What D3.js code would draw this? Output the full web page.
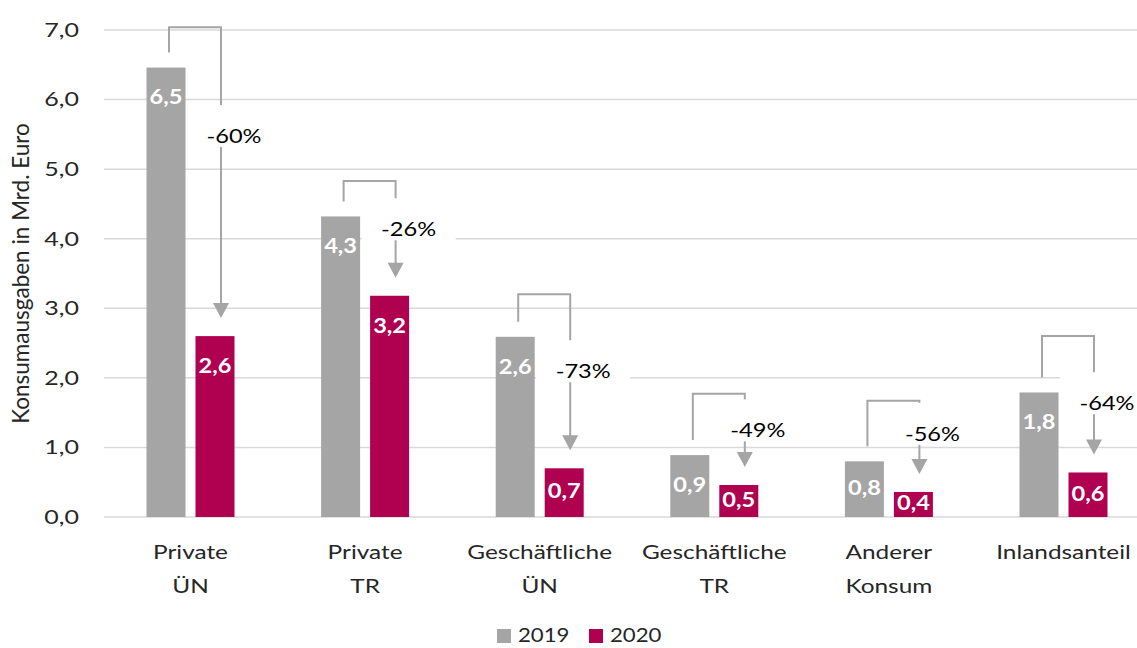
<!DOCTYPE html>
<html>
<head>
<meta charset="utf-8">
<script src="https://cdn.jsdelivr.net/npm/d3@7"></script>
<style>
  body { margin: 0; background: #fff; }
  svg { display: block; font-family: Lato, "Open Sans", sans-serif; }
</style>
</head>
<body>
<svg id="chart" width="1137" height="648"></svg>
<script>
// chart values
const categories = [['Private', 'ÜN'], ['Private', 'TR'], ['Geschäftliche', 'ÜN'], ['Geschäftliche', 'TR'], ['Anderer', 'Konsum'], ['Inlandsanteil']];
const series = ['2019', '2020'];
const values2019 = [6.46, 4.32, 2.59, 0.89, 0.80, 1.79];
const values2020 = [2.60, 3.18, 0.70, 0.46, 0.36, 0.64];
const changeLabels = ['-60%', '-26%', '-73%', '-49%', '-56%', '-64%'];
const bracketLevels = [7.04, 4.83, 3.20, 1.77, 1.67, 2.60];
const changeLabelLevels = [5.49, 4.15, 2.11, 1.26, 1.21, 1.65];
const yTicks = [0, 1, 2, 3, 4, 5, 6, 7];

const colors = {'2019': '#A5A5A5', '2020': '#B00050'};
const fmt = v => d3.format('.1f')(v).replace('.', ',');

// the original text is set wide, so squeeze text out horizontally around its anchor
const stretch = (sel, s) => sel.attr('transform', function() {
  const x = +d3.select(this).attr('x') || 0;
  return 'translate(' + x + ',0) scale(' + s + ',1) translate(' + (-x) + ',0)';
});

const svg = d3.select('#chart');
const margin = {top: 30, bottom: 131, left: 104};
const H = +svg.attr('height');

const y = d3.scaleLinear().domain([0, 7]).range([H - margin.bottom, margin.top]);
const x0 = d3.scaleBand().domain(d3.range(categories.length)).range([103.2, 1150.8]);
const groupW = 88;
const x1 = d3.scaleBand().domain(series).range([0, groupW]).paddingInner(0.204);
const gx = i => x0(i) + (x0.bandwidth() - groupW) / 2;

// gridlines
svg.append('g').selectAll('line')
  .data(yTicks)
  .enter().append('line')
  .attr('x1', margin.left).attr('x2', 1137)
  .attr('y1', d => y(d)).attr('y2', d => y(d))
  .attr('stroke', '#D9D9D9').attr('stroke-width', 1.5);

// y axis
const yAxis = d3.axisLeft(y).tickValues(yTicks).tickFormat(fmt).tickSize(0).tickPadding(0);
const ya = svg.append('g').attr('transform', 'translate(79,0)').call(yAxis);
ya.select('.domain').remove();
ya.selectAll('text').attr('font-size', 20).attr('fill', '#262626').attr('font-family', 'Lato, sans-serif')
  .call(stretch, 1.25);

svg.append('text')
  .attr('transform', 'translate(29,' + y(3.5) + ') rotate(-90)')
  .attr('text-anchor', 'middle')
  .attr('font-size', 22.5).attr('fill', '#262626')
  .text('Konsumausgaben in Mrd. Euro');

// x labels
const xl = svg.append('g').selectAll('text')
  .data(categories)
  .enter().append('text')
  .attr('text-anchor', 'middle')
  .attr('font-size', 20).attr('fill', '#262626')
  .attr('x', (d, i) => x0(i) + x0.bandwidth() / 2)
  .attr('y', 559)
  .call(stretch, 1.22);
xl.selectAll('tspan')
  .data(d => d)
  .enter().append('tspan')
  .attr('x', function() { return d3.select(this.parentNode).attr('x'); })
  .attr('dy', (d, j) => j === 0 ? 0 : 34)
  .text(d => d);

// bars
const rows = categories.map((c, i) => ({i, v: {'2019': values2019[i], '2020': values2020[i]}}));
const barData = [];
rows.forEach(r => series.forEach(s => barData.push({i: r.i, s, v: r.v[s]})));

svg.append('g').selectAll('rect')
  .data(barData)
  .enter().append('rect')
  .attr('x', d => gx(d.i) + x1(d.s))
  .attr('width', x1.bandwidth())
  .attr('y', d => y(d.v))
  .attr('height', d => y(0) - y(d.v))
  .attr('fill', d => colors[d.s]);

svg.append('g').selectAll('text')
  .data(barData)
  .enter().append('text')
  .attr('text-anchor', 'middle')
  .attr('dominant-baseline', 'central')
  .attr('font-size', 20).attr('font-weight', 'bold').attr('fill', '#fff')
  .attr('x', d => gx(d.i) + x1(d.s) + x1.bandwidth() / 2)
  .attr('y', d => Math.min(y(d.v) + 29, (y(d.v) + y(0)) / 2 - 2))
  .text(d => fmt(d.v))
  .call(stretch, 1.18);

// change annotations
const ann = svg.append('g').selectAll('g')
  .data(rows)
  .enter().append('g');

const lx = d => gx(d.i) + x1('2019') + x1.bandwidth() / 2 + 3;
const rx = d => gx(d.i) + x1('2020') + x1.bandwidth() / 2 + 6;
const tipY = d => y(d.v['2020']) - 18;

ann.append('path')
  .attr('fill', 'none').attr('stroke', '#A5A5A5').attr('stroke-width', 2)
  .attr('d', d => 'M' + lx(d) + ',' + (y(d.v['2019']) - 15) +
    'V' + y(bracketLevels[d.i]) + 'H' + rx(d) + 'V' + (tipY(d) - 14));

ann.append('path')
  .attr('fill', '#A5A5A5')
  .attr('d', d => 'M' + (rx(d) - 8) + ',' + (tipY(d) - 15) + 'L' + (rx(d) + 8) + ',' + (tipY(d) - 15) +
    'L' + rx(d) + ',' + tipY(d) + 'Z');

ann.append('rect')
  .attr('fill', '#fff')
  .attr('x', d => rx(d) + 13 - 47)
  .attr('width', 94)
  .attr('y', d => y(changeLabelLevels[d.i]) - 30)
  .attr('height', 42);

ann.append('text')
  .attr('text-anchor', 'middle')
  .attr('dominant-baseline', 'central')
  .attr('font-size', 20).attr('fill', '#000')
  .attr('x', d => rx(d) + 13)
  .attr('y', d => y(changeLabelLevels[d.i]))
  .text(d => changeLabels[d.i])
  .call(stretch, 1.18);

// legend
const leg = svg.append('g').selectAll('g')
  .data(series)
  .enter().append('g')
  .attr('transform', (d, i) => 'translate(' + (497 + i * 92) + ',0)');
leg.append('rect').attr('y', 629).attr('width', 14).attr('height', 14).attr('fill', d => colors[d]);
leg.append('text').attr('x', 21).attr('y', 642).attr('font-size', 20).attr('fill', '#262626').text(d => d)
  .call(stretch, 1.11);
</script>
</body>
</html>
